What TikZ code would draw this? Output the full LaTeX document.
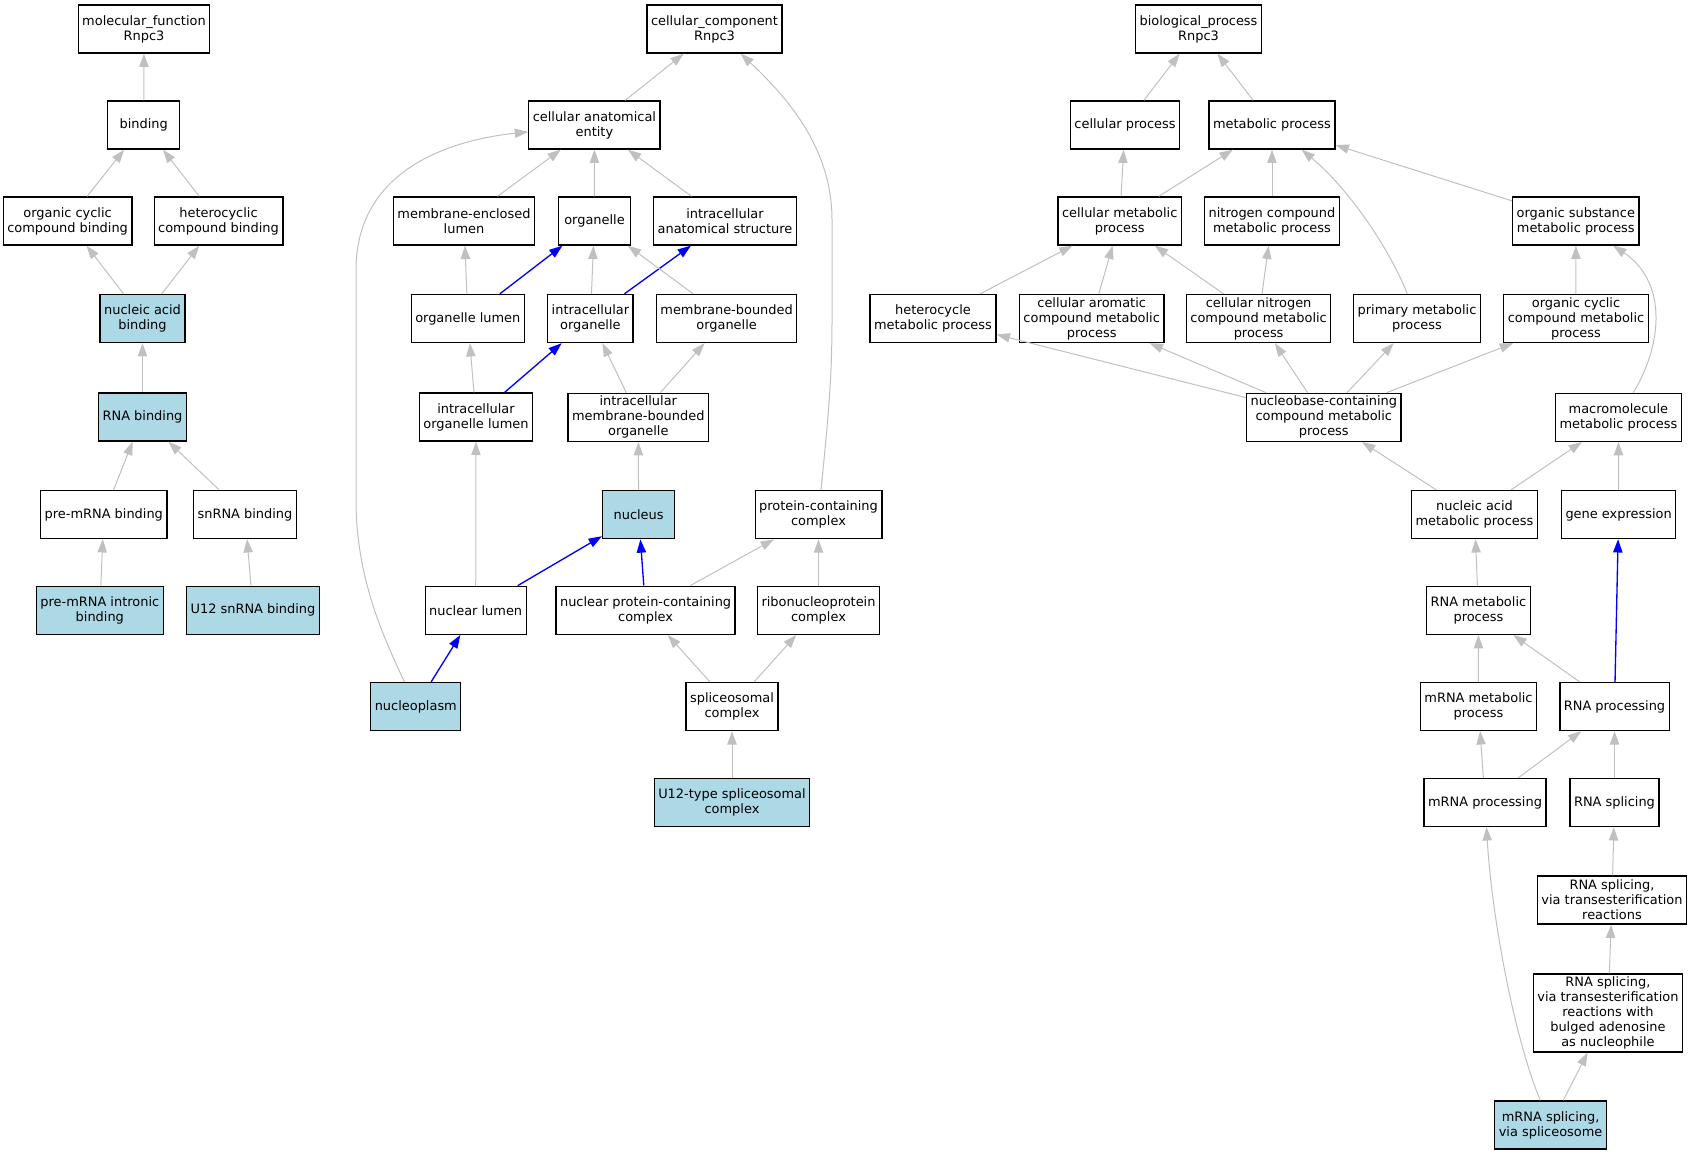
\documentclass[tikz,border=0pt]{standalone}
\usepackage{fontspec}
\setmainfont{DejaVu Sans}
\usepackage{tikz}
\usetikzlibrary{arrows.meta}
\definecolor{edgegray}{RGB}{192,192,192}
\definecolor{hitblue}{RGB}{173,216,230}
\tikzset{
    term/.style = {
        rectangle,
        draw,
        line width=1pt,
        minimum width=54pt,
        minimum height=36pt,
        inner xsep=3pt,
        inner ysep=2pt,
        align=center,
        font=\fontsize{9.7pt}{11.25pt}\selectfont
    },
    hit/.style = {
        term,
        fill=hitblue
    },
    isa/.style = {
        -{Triangle[length=10pt,width=7pt]},
        color=edgegray,
        line width=0.75pt
    },
    partof/.style = {
        -{Triangle[length=10pt,width=7pt]},
        color=blue,
        line width=1pt
    }
}

\begin{document}
\begin{tikzpicture}[x=0.75pt,y=-0.75pt]
\useasboundingbox (0,0) rectangle (1692,1155);

\node (molfn) [term] at (144,29) {molecular\_function\\Rnpc3};
\node (binding) [term] at (143.7,125) {binding};
\node (ocbind) [term] at (67.6,221) {organic cyclic\\compound binding};
\node (hcbind) [term] at (218.5,221) {heterocyclic\\compound binding};
\node (nabind) [hit] at (142.5,318.5) {nucleic acid\\binding};
\node (rnabind) [hit] at (142.5,417) {RNA binding};
\node (premrna) [term] at (103.8,514.5) {pre-mRNA binding};
\node (snrna) [term] at (245,514.5) {snRNA binding};
\node (intronic) [hit] at (99.8,610.3) {pre-mRNA intronic\\binding};
\node (usnrna) [hit] at (253,610.3) {U12 snRNA binding};

\node (cellcomp) [term] at (714.5,29) {cellular\_component\\Rnpc3};
\node (cae) [term] at (594.4,125) {cellular anatomical\\entity};
\node (melumen) [term] at (464,221) {membrane-enclosed\\lumen};
\node (organelle) [term] at (594.5,221) {organelle};
\node (ias) [term] at (725,221) {intracellular\\anatomical structure};
\node (olumen) [term] at (467.8,318.5) {organelle lumen};
\node (iorg) [term] at (590.4,318.5) {intracellular\\organelle};
\node (mborg) [term] at (726.6,318.5) {membrane-bounded\\organelle};
\node (iolumen) [term] at (476,417) {intracellular\\organelle lumen};
\node (imborg) [term] at (638.3,417.3) {intracellular\\membrane-bounded\\organelle};
\node (nucleus) [hit] at (638.6,514.7) {nucleus};
\node (pcc) [term] at (818.5,514.7) {protein-containing\\complex};
\node (nlumen) [term] at (475.7,610.3) {nuclear lumen};
\node (npcc) [term] at (645.6,610.3) {nuclear protein-containing\\complex};
\node (rnp) [term] at (818.5,610.3) {ribonucleoprotein\\complex};
\node (nplasm) [hit] at (415.8,706.5) {nucleoplasm};
\node (spliceo) [term] at (732,706.5) {spliceosomal\\complex};
\node (u12spl) [hit] at (732,802.5) {U12-type spliceosomal\\complex};

\node (bioproc) [term] at (1198.5,29) {biological\_process\\Rnpc3};
\node (cellproc) [term] at (1125,125) {cellular process};
\node (metab) [term] at (1272,125) {metabolic process};
\node (cmetab) [term] at (1119.7,221) {cellular metabolic\\process};
\node (ncmetab) [term] at (1272,221) {nitrogen compound\\metabolic process};
\node (osmetab) [term] at (1575.8,221) {organic substance\\metabolic process};
\node (hcmetab) [term] at (933,318.5) {heterocycle\\metabolic process};
\node (cametab) [term] at (1091.7,318.5) {cellular aromatic\\compound metabolic\\process};
\node (cnmetab) [term] at (1258.6,318.5) {cellular nitrogen\\compound metabolic\\process};
\node (pmetab) [term] at (1417,318.5) {primary metabolic\\process};
\node (ocmetab) [term] at (1576,318.5) {organic cyclic\\compound metabolic\\process};
\node (nbmetab) [term] at (1323.8,417.3) {nucleobase-containing\\compound metabolic\\process};
\node (macro) [term] at (1618.4,417.3) {macromolecule\\metabolic process};
\node (nametab) [term] at (1474.5,514.5) {nucleic acid\\metabolic process};
\node (geneexp) [term] at (1618.6,514.5) {gene expression};
\node (rnametab) [term] at (1478.4,610.3) {RNA metabolic\\process};
\node (mrnametab) [term] at (1478.5,706.5) {mRNA metabolic\\process};
\node (rnaproc) [term] at (1614.5,706.5) {RNA processing};
\node (mrnaproc) [term] at (1485,802.5) {mRNA processing};
\node (splicing) [term] at (1614.5,802.5) {RNA splicing};
\node (splicetr) [term] at (1612,900) {RNA splicing,\\via transesterification\\reactions};
\node (splicebulge) [term] at (1607.9,1013) {RNA splicing,\\via transesterification\\reactions with\\bulged adenosine\\as nucleophile};
\node (mrnasplice) [hit] at (1550.6,1125) {mRNA splicing,\\via spliceosome};

\draw[isa] (binding) -- (molfn);
\draw[isa] (ocbind) -- (binding);
\draw[isa] (hcbind) -- (binding);
\draw[isa] (nabind) -- (ocbind);
\draw[isa] (nabind) -- (hcbind);
\draw[isa] (rnabind) -- (nabind);
\draw[isa] (premrna) -- (rnabind);
\draw[isa] (snrna) -- (rnabind);
\draw[isa] (intronic) -- (premrna);
\draw[isa] (usnrna) -- (snrna);

\draw[isa] (cae) -- (cellcomp);
\draw[isa] (pcc) .. controls (828,420) and (832,380) .. (832,320) -- (832,220) .. controls (832,150) and (790,100) .. (cellcomp);
\draw[isa] (melumen) -- (cae);
\draw[isa] (organelle) -- (cae);
\draw[isa] (ias) -- (cae);
\draw[isa] (nplasm) .. controls (385,640) and (356,580) .. (356,500) -- (356,270) .. controls (356,170) and (450,140) .. (cae);
\draw[isa] (olumen) -- (melumen);
\draw[partof] (olumen) -- (organelle);
\draw[isa] (iorg) -- (organelle);
\draw[partof] (iorg) -- (ias);
\draw[isa] (mborg) -- (organelle);
\draw[isa] (iolumen) -- (olumen);
\draw[partof] (iolumen) -- (iorg);
\draw[isa] (imborg) -- (iorg);
\draw[isa] (imborg) -- (mborg);
\draw[isa] (nucleus) -- (imborg);
\draw[isa] (nlumen) -- (iolumen);
\draw[partof] (nlumen) -- (nucleus);
\draw[partof] (npcc) -- (nucleus);
\draw[isa] (npcc) -- (pcc);
\draw[isa] (rnp) -- (pcc);
\draw[partof] (nplasm) -- (nlumen);
\draw[isa] (spliceo) -- (npcc);
\draw[isa] (spliceo) -- (rnp);
\draw[isa] (u12spl) -- (spliceo);

\draw[isa] (cellproc) -- (bioproc);
\draw[isa] (metab) -- (bioproc);
\draw[isa] (cmetab) -- (cellproc);
\draw[isa] (cmetab) -- (metab);
\draw[isa] (ncmetab) -- (metab);
\draw[isa] (osmetab) -- (metab);
\draw[isa] (pmetab) .. controls (1390,250) and (1350,190) .. (metab);
\draw[isa] (hcmetab) -- (cmetab);
\draw[isa] (cametab) -- (cmetab);
\draw[isa] (cnmetab) -- (cmetab);
\draw[isa] (cnmetab) -- (ncmetab);
\draw[isa] (ocmetab) -- (osmetab);
\draw[isa] (macro) .. controls (1665,340) and (1665,280) .. (osmetab);
\draw[isa] (nbmetab) -- (hcmetab);
\draw[isa] (nbmetab) -- (cametab);
\draw[isa] (nbmetab) -- (cnmetab);
\draw[isa] (nbmetab) -- (pmetab);
\draw[isa] (nbmetab) -- (ocmetab);
\draw[isa] (nametab) -- (nbmetab);
\draw[isa] (nametab) -- (macro);
\draw[isa] (geneexp) -- (macro);
\draw[isa] (rnametab) -- (nametab);
\draw[isa] (mrnametab) -- (rnametab);
\draw[isa] (rnaproc) -- (rnametab);
\draw[partof] (rnaproc) -- (geneexp);
\draw[isa] (mrnaproc) -- (mrnametab);
\draw[isa] (mrnaproc) -- (rnaproc);
\draw[isa] (splicing) -- (rnaproc);
\draw[isa] (splicetr) -- (splicing);
\draw[isa] (splicebulge) -- (splicetr);
\draw[isa] (mrnasplice) -- (splicebulge);
\draw[isa] (mrnasplice) .. controls (1515,1040) and (1492,920) .. (mrnaproc);
\end{tikzpicture}
\end{document}
